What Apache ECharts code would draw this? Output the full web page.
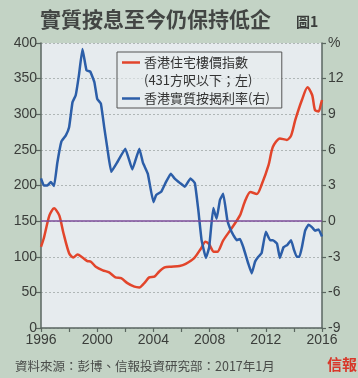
<!DOCTYPE html>
<html><head><meta charset="utf-8">
<script src="https://cdn.jsdelivr.net/npm/echarts@6/dist/echarts.min.js"></script>
<style>html,body{margin:0;padding:0;background:#c3d3c5;}#c{width:358px;height:378px;}</style>
</head><body><div id="c"></div>
<script>
const redYears = [1996.0,1996.2,1996.6,1996.93,1997.3,1997.6,1998.0,1998.3,1998.6,1998.95,1999.3,1999.55,1999.9,2000.4,2000.85,2001.3,2001.7,2002.15,2002.65,2003.0,2003.35,2003.7,2004.07,2004.4,2004.8,2005.26,2005.86,2006.3,2006.9,2007.4,2007.7,2007.95,2008.3,2008.55,2008.97,2009.57,2010.16,2010.5,2010.9,2011.36,2011.7,2012.2,2012.5,2013.0,2013.5,2013.8,2014.1,2014.57,2014.97,2015.3,2015.5,2015.76,2015.93,2016.0];
const redValues = [114,126,158,168,158,133,105,99,103,99,94,93,86,81,78,71,70,63,58,57,63,71,72,79,85,86,87,90,98,112,121,118,107,107,123,140,158,177,191,188,201,229,254,266,264,270,292,320,338,327,306,304,315,320];
const blueYears = [1996.0,1996.2,1996.45,1996.7,1996.93,1997.16,1997.45,1997.76,1998.0,1998.24,1998.47,1998.7,1998.95,1999.24,1999.5,1999.8,2000.0,2000.26,2000.5,2000.74,2001.0,2001.45,2002.0,2002.5,2003.0,2003.26,2003.6,2004.0,2004.2,2004.57,2004.9,2005.24,2005.5,2005.9,2006.24,2006.64,2006.95,2007.2,2007.43,2007.74,2007.97,2008.26,2008.5,2008.74,2008.97,2009.26,2009.45,2009.7,2009.93,2010.16,2010.4,2010.76,2011.0,2011.24,2011.47,2011.7,2012.0,2012.3,2012.5,2012.8,2013.0,2013.26,2013.54,2013.8,2014.0,2014.2,2014.4,2014.57,2014.8,2015.04,2015.28,2015.5,2015.76,2016.0];
const blueValues = [3.6,3.0,3.0,3.3,2.95,4.9,6.7,7.2,7.9,10.0,10.6,12.3,14.5,12.7,12.6,11.7,10.3,9.9,7.9,6.0,4.15,5.0,6.1,4.35,6.1,4.9,4.0,1.6,2.2,2.5,3.3,4.0,3.6,3.2,2.9,3.6,3.2,0.9,-1.6,-3.1,-2.2,1.1,0.2,1.8,2.3,0.1,-0.6,-1.2,-1.6,-1.5,-2.2,-3.6,-4.4,-3.4,-3.0,-2.7,-0.9,-1.6,-1.6,-1.9,-3.1,-2.2,-2.0,-1.6,-2.4,-3.0,-3.0,-2.2,-0.8,-0.3,-0.5,-0.8,-0.7,-1.3];
const redName = '香港住宅樓價指數';
const redName2 = '(431方呎以下；左)';
const blueName = '香港實質按揭利率(右)';
const zeroRefLeft = 150;

const font = "'Liberation Sans','Noto Sans CJK TC',sans-serif";
const cjk = "'Noto Sans CJK TC',sans-serif";
const txt = '#3a3d3a';
const axisCol = '#5a6660';

const chart = echarts.init(document.getElementById('c'), null, {renderer:'canvas'});
chart.setOption({
  backgroundColor: '#c3d3c5',
  animation: false,
  title: [
    {text: '實質按息至今仍保持低企', left: 35, top: 4, textStyle: {fontFamily: cjk, fontSize: 21, fontWeight: 'bold', color: '#434644'}},
    {text: '圖1', left: 291, top: 10, textStyle: {fontFamily: cjk, fontSize: 14, fontWeight: 'bold', color: '#3b3e3c'}},
    {text: '資料來源：彭博、信報投資研究部：2017年1月', left: 10, top: 355, textStyle: {fontFamily: cjk, fontSize: 12.5, fontWeight: 'normal', color: '#4a4d4a'}},
    {text: '信報', left: 322, top: 352, textStyle: {fontFamily: cjk, fontSize: 15, fontWeight: 'bold', color: '#d8382a'}}
  ],
  legend: {
    orient: 'vertical', left: 117, top: 52,
    data: [{name: redName}, {name: redName2, icon: 'none'}, {name: blueName}],
    itemWidth: 18, itemHeight: 2.5, itemGap: 5,
    padding: [4, 12, 3, 5],
    borderColor: '#555', borderWidth: 1, backgroundColor: 'rgba(232,236,238,0.6)',
    selectedMode: false,
    textStyle: {fontFamily: cjk, fontSize: 13, color: '#333', padding: [0,0,0,-1]},
    icon: 'rect'
  },
  grid: {left: 41, right: 36, top: 43, bottom: 50, show: true, backgroundColor: '#e6ebee', borderWidth: 0},
  xAxis: {
    type: 'value', min: 1996, max: 2016, interval: 2,
    axisLine: {lineStyle: {color: axisCol, width: 1.5}},
    axisTick: {show: true, length: 4, lineStyle: {color: axisCol, width: 1.2}},
    splitLine: {show: false},
    axisLabel: {fontFamily: font, fontSize: 14, color: txt, margin: 5,
      formatter: v => (v % 4 === 0 ? String(v) : '')}
  },
  yAxis: [
    {type: 'value', min: 0, max: 400, interval: 50, position: 'left',
     axisLine: {show: true, lineStyle: {color: axisCol, width: 1.5}},
     axisTick: {show: true, length: 5, lineStyle: {color: axisCol, width: 1.2}},
     splitLine: {show: true, lineStyle: {color: '#afb6b6', type: [2, 2], width: 1}},
     axisLabel: {fontFamily: font, fontSize: 14, color: txt, margin: 4}},
    {type: 'value', min: -9, max: 15, interval: 3, position: 'right',
     axisLine: {show: true, lineStyle: {color: axisCol, width: 1.5}},
     axisTick: {show: true, length: 4, lineStyle: {color: axisCol, width: 1.2}},
     splitLine: {show: false},
     axisLabel: {fontFamily: font, fontSize: 14, color: txt, margin: 6,
       formatter: v => (v === 15 ? '%' : String(v))}}
  ],
  series: [
    {name: redName, type: 'line', yAxisIndex: 0, showSymbol: false, smooth: 0.25,
     data: redYears.map((y, i) => [y, redValues[i]]),
     lineStyle: {color: '#e2452b', width: 2.5}, itemStyle: {color: '#e2452b'}, z: 3,
     markLine: {silent: true, symbol: 'none', label: {show: false},
       lineStyle: {color: '#7c4c9a', width: 1.5, type: 'solid'},
       data: [{yAxis: zeroRefLeft}]}},
    {name: redName2, type: 'line', data: [], itemStyle: {color: 'rgba(0,0,0,0)'}},
    {name: blueName, type: 'line', yAxisIndex: 1, showSymbol: false, smooth: 0.1,
     data: blueYears.map((y, i) => [y, blueValues[i]]),
     lineStyle: {color: '#2c5ea8', width: 2.5}, itemStyle: {color: '#2c5ea8'}, z: 4}
  ]
});
</script></body></html>
